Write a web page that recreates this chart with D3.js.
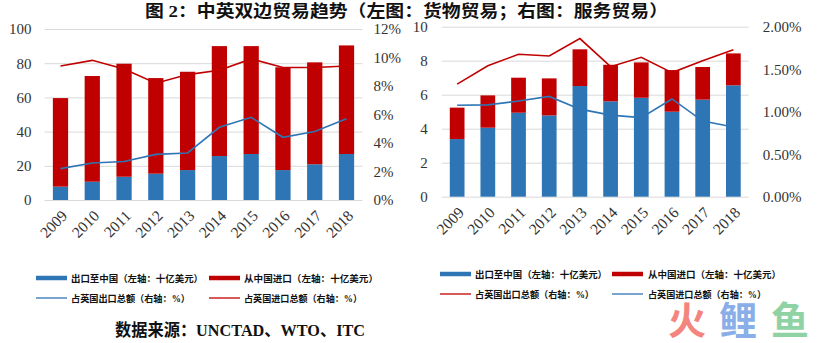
<!DOCTYPE html>
<html><head><meta charset="utf-8">
<script src="https://cdn.jsdelivr.net/npm/d3@7"></script>
<style>body{margin:0;background:#fff}svg{display:block}</style>
</head><body>
<svg id="c" width="837" height="343"></svg>
<script>
const years = ["2009","2010","2011","2012","2013","2014","2015","2016","2017","2018"];
// Left: goods trade (billion USD), shares (%)
const goodsExport = [7.8,10.7,13.6,15.4,17.5,25.7,26.9,17.5,20.9,26.9];
const goodsImport = [51.8,61.8,66.1,55.9,57.5,64.3,63.1,60.1,59.6,63.5];
const goodsExportShare = [2.2,2.6,2.7,3.2,3.3,5.1,5.8,4.4,4.8,5.7];
const goodsImportShare = [9.4,9.8,9.2,8.2,8.8,9.1,9.9,9.3,9.3,9.4];
// Right: services trade (billion USD), shares (%)
const servExport = [3.39,4.06,4.94,4.78,6.51,5.61,5.82,5.0,5.71,6.55];
const servImport = [1.85,1.9,2.06,2.18,2.16,2.15,2.08,2.45,1.92,1.88];
const servExportShare = [1.325,1.54,1.675,1.655,1.86,1.53,1.64,1.46,1.6,1.73];
const servImportShare = [1.075,1.08,1.125,1.18,1.03,0.96,0.93,1.15,0.89,0.82];
const leftTicksL = [0,20,40,60,80,100];
const leftTicksR = [0,2,4,6,8,10,12];
const rightTicksL = [0,2,4,6,8,10];
const rightTicksR = [0,0.5,1,1.5,2];

const BLUE = "#2e75b6", RED = "#c00000";
const svg = d3.select("#c");
const serif = "'Liberation Serif','Times New Roman',serif";
const cjk = "'Liberation Serif','Noto Sans CJK SC',sans-serif";

svg.append("text").attr("x",145).attr("y",16.5).attr("font-family",cjk).attr("font-weight","bold")
  .attr("font-size",16.5).attr("fill","#111").attr("textLength",523).attr("lengthAdjust","spacingAndGlyphs")
  .text("图 2：中英双边贸易趋势（左图：货物贸易；右图：服务贸易）");

function chart(o){
  const x = d3.scaleBand().domain(years).range([o.x0,o.x1]).paddingInner(0.52).paddingOuter(0.26);
  const y = d3.scaleLinear().domain([0,o.maxL]).range([o.y0,o.y1]);
  const y2 = d3.scaleLinear().domain([0,o.maxR]).range([o.y0,o.y1]);
  const g = svg.append("g");
  g.append("g").attr("transform",`translate(${o.x0},0)`)
    .call(d3.axisLeft(y).tickValues(o.gridTicks).tickSize(-(o.x1-o.x0)).tickFormat(""))
    .call(a=>a.select(".domain").remove())
    .call(a=>a.selectAll("line").attr("stroke","#d9d9d9"));
  g.append("g").attr("transform",`translate(${o.x0},0)`)
    .call(d3.axisLeft(y).tickValues(o.ticksL).tickSize(0).tickPadding(o.padL))
    .call(a=>a.select(".domain").remove())
    .call(a=>a.selectAll("text").attr("font-family",serif).attr("font-size",15).attr("fill","#333"));
  g.append("g").attr("transform",`translate(${o.x1},0)`)
    .call(d3.axisRight(y2).tickValues(o.ticksR).tickSize(0).tickPadding(o.padR).tickFormat(o.fmtR))
    .call(a=>a.select(".domain").remove())
    .call(a=>a.selectAll("text").attr("font-family",serif).attr("font-size",15).attr("fill","#333"));
  g.selectAll(".b1").data(years).join("rect").attr("x",d=>x(d)).attr("width",x.bandwidth())
    .attr("y",(d,i)=>y(o.exp[i])).attr("height",(d,i)=>y(0)-y(o.exp[i])).attr("fill",BLUE);
  g.selectAll(".b2").data(years).join("rect").attr("x",d=>x(d)).attr("width",x.bandwidth())
    .attr("y",(d,i)=>y(o.exp[i]+o.imp[i])).attr("height",(d,i)=>y(o.exp[i])-y(o.exp[i]+o.imp[i])).attr("fill",RED);
  const line = arr => d3.line().x((d,i)=>x(years[i])+x.bandwidth()/2).y(d=>y2(d))(arr);
  g.append("path").attr("d",line(o.lineBlue)).attr("fill","none").attr("stroke",BLUE).attr("stroke-width",1.6);
  g.append("path").attr("d",line(o.lineRed)).attr("fill","none").attr("stroke",RED).attr("stroke-width",1.6);
  g.selectAll(".xl").data(years).join("text")
    .attr("transform",d=>`translate(${x(d)+x.bandwidth()/2+4},${o.y0+13}) rotate(-45)`)
    .attr("text-anchor","end").attr("dy","0.35em").attr("font-family",serif).attr("font-size",15.5).attr("fill","#333")
    .text(d=>d);
}
chart({x0:44.6,x1:362.4,y0:200,y1:29,maxL:100,maxR:12,gridTicks:leftTicksL,ticksL:leftTicksL,ticksR:leftTicksR,
  padL:13,padR:11,fmtR:d=>d+"%",exp:goodsExport,imp:goodsImport,lineBlue:goodsExportShare,lineRed:goodsImportShare});
chart({x0:441.8,x1:748.7,y0:196.7,y1:26.7,maxL:10,maxR:2,gridTicks:rightTicksL,ticksL:rightTicksL,ticksR:rightTicksR,
  padL:14,padR:14,fmtR:d=>d.toFixed(2)+"%",exp:servExport,imp:servImport,lineBlue:servImportShare,lineRed:servExportShare});

function legend(items){
  items.forEach(it=>{
    svg.append("line").attr("x1",it.sx).attr("x2",it.sx+31).attr("y1",it.y).attr("y2",it.y)
      .attr("stroke",it.c).attr("stroke-width",it.thick?4.5:1.3);
    svg.append("text").attr("x",it.tx).attr("y",it.y+3.5).attr("font-family",cjk).attr("font-weight","bold")
      .attr("font-size",9.5).attr("fill","#111").attr("textLength",it.tw).attr("lengthAdjust","spacingAndGlyphs").text(it.t);
  });
}
const L1="出口至中国（左轴：十亿美元）", L2="从中国进口（左轴：十亿美元）",
      L3="占英国出口总额（右轴：%）", L4="占英国进口总额（右轴：%）";
legend([
  {sx:36,y:278,c:BLUE,thick:true,tx:71,tw:132,t:L1},
  {sx:209,y:278,c:RED,thick:true,tx:244,tw:134,t:L2},
  {sx:36,y:298,c:BLUE,thick:false,tx:71,tw:119,t:L3},
  {sx:209,y:298,c:RED,thick:false,tx:244,tw:118,t:L4},
  {sx:440,y:274,c:BLUE,thick:true,tx:475,tw:132,t:L1},
  {sx:612,y:274,c:RED,thick:true,tx:648,tw:133,t:L2},
  {sx:440,y:294,c:RED,thick:false,tx:475,tw:119,t:L3},
  {sx:612,y:294,c:BLUE,thick:false,tx:648,tw:118,t:L4}
]);
svg.append("text").attr("x",115).attr("y",336).attr("font-family",cjk).attr("font-weight","bold")
  .attr("font-size",17).attr("fill","#111").attr("textLength",250).attr("lengthAdjust","spacingAndGlyphs")
  .text("数据来源：UNCTAD、WTO、ITC");
[["火",668,"#f4847e"],["鲤",719,"#8aaee8"],["鱼",771,"#8fd3a5"]].forEach(([t,xx,c])=>{
  svg.append("text").attr("x",xx).attr("y",334).attr("font-family","'Noto Sans CJK SC',sans-serif")
    .attr("font-weight","bold").attr("font-size",38).attr("fill",c).text(t);
});
</script>
</body></html>
